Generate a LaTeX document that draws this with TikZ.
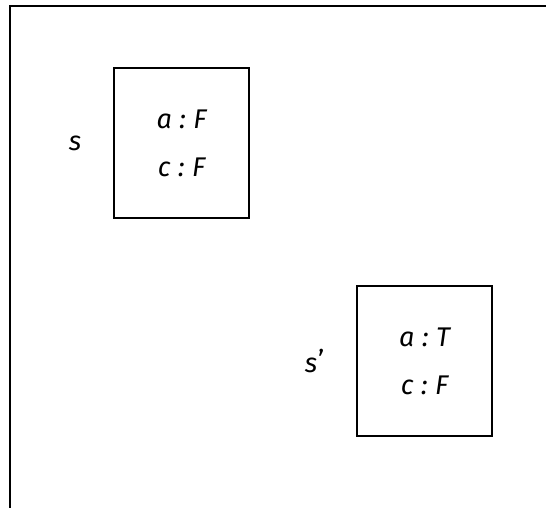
\documentclass[tikz,border=0pt]{standalone}
\usepackage{fontspec}
\setmainfont{Fira Sans}
\usetikzlibrary{positioning}

\begin{document}
\begin{tikzpicture}[x=1pt, y=-1pt, node distance=28pt]
    \tikzstyle{state} = [rectangle, draw, line width=2.2pt, minimum width=135pt, minimum height=150pt, align=center, font=\itshape\fontsize{27pt}{48pt}\selectfont]
    \tikzstyle{statelabel} = [font=\itshape\fontsize{27pt}{30pt}\selectfont]

    \useasboundingbox (0,0) rectangle (546,508);

    % open frame, top and left side only
    \coordinate (topright) at (546,6);
    \coordinate (corner) at (10,6);
    \coordinate (bottomleft) at (10,508);
    \draw [line width=2.2pt] (topright) -- (corner) -- (bottomleft);

    \node (s) [state] at (181.5,143) {a\;:\;F\\c\;:\;F};
    \node (sprime) [state] at (424.5,361) {a\;:\;T\\c\;:\;F};

    \node (slabel) [statelabel, left=of s] {s};
    \node (sprimelabel) [statelabel, left=of sprime] {s\kern1pt\raisebox{3pt}{\upshape\char"2019}};
\end{tikzpicture}
\end{document}
